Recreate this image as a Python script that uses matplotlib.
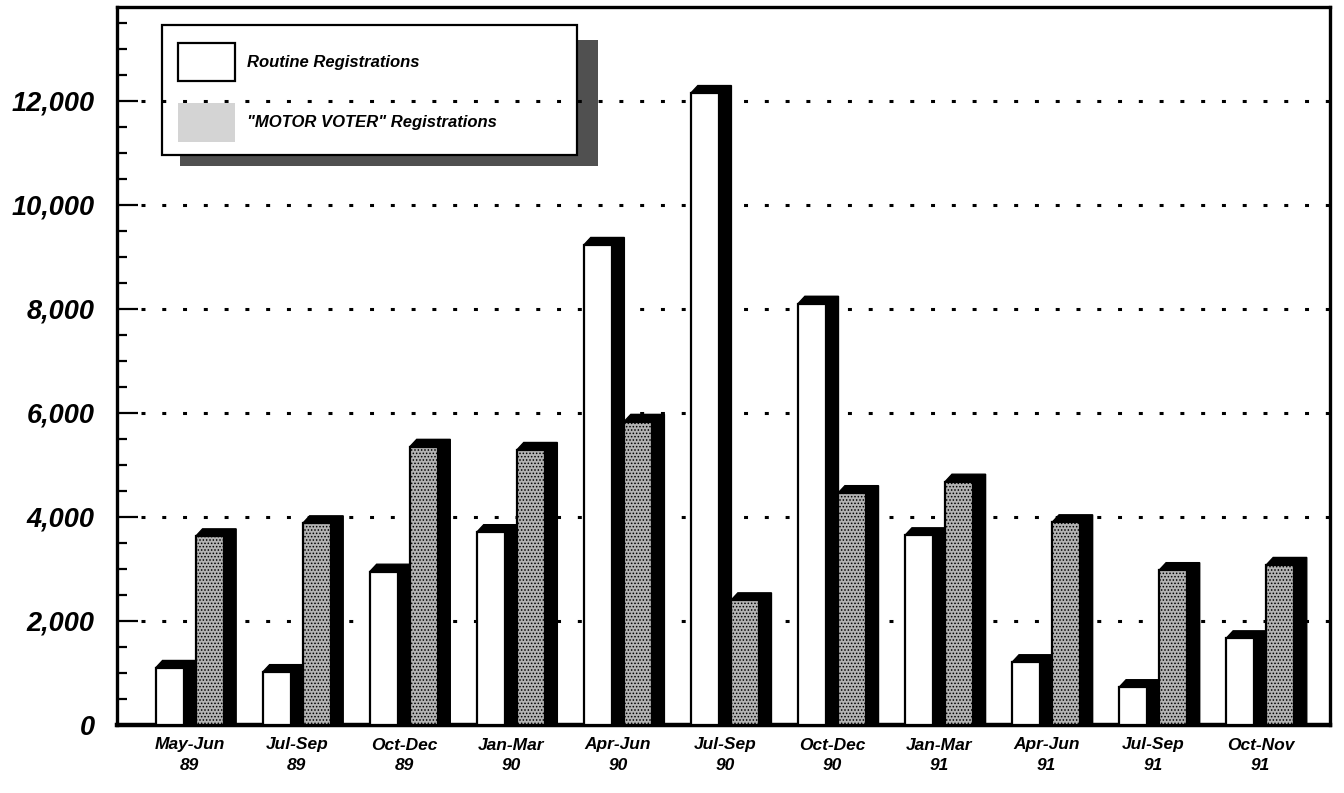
import matplotlib
matplotlib.use("Agg")
import matplotlib.pyplot as plt
from matplotlib.patches import Polygon, Rectangle
from matplotlib.ticker import MultipleLocator, FuncFormatter
import numpy as np

# ---- data ----
periods = ["May-Jun", "Jul-Sep", "Oct-Dec", "Jan-Mar", "Apr-Jun", "Jul-Sep",
           "Oct-Dec", "Jan-Mar", "Apr-Jun", "Jul-Sep", "Oct-Nov"]
years = ["89", "89", "89", "90", "90", "90", "90", "91", "91", "91", "91"]
routine = [1100, 1020, 2950, 3710, 9230, 12150, 8100, 3650, 1210, 730, 1670]
motor_voter = [3630, 3880, 5350, 5290, 5830, 2400, 4460, 4680, 3900, 2980, 3080]
series_labels = ["Routine Registrations", "\"MOTOR VOTER\" Registrations"]
y_ticks = [0, 2000, 4000, 6000, 8000, 10000, 12000]

plt.rcParams['font.family'] = ['Liberation Sans', 'DejaVu Sans']
NARROW = ['Liberation Sans Narrow', 'Liberation Sans', 'DejaVu Sans']

fig = plt.figure(figsize=(13.44, 7.93), dpi=100)
ax = fig.add_axes([117/1344, 1-725/793, (1330-117)/1344, (725-7)/793])

x = np.arange(len(periods))
w = 0.262
off = 0.187
dx = 0.115
dy = 140
GRAY = '#b4b4b4'

def draw_bars(xc, vals, face, hatch=None):
    for xi, v in zip(xc, vals):
        x0, x1 = xi - w/2, xi + w/2
        shadow = Polygon([(x0, v), (x0 + dx*0.55, v + dy), (x1 + dx, v + dy),
                          (x1 + dx, 0), (x1, 0)], closed=True,
                         facecolor='black', edgecolor='black', lw=1, zorder=3)
        ax.add_patch(shadow)
    ax.bar(xc, vals, width=w, facecolor=face, edgecolor='black', linewidth=1.6,
           hatch=hatch, zorder=4)

plt.rcParams['hatch.color'] = '#444444'
plt.rcParams['hatch.linewidth'] = 0.7
draw_bars(x - off, routine, 'white')
draw_bars(x + off, motor_voter, GRAY, hatch='.....')

ax.set_xlim(-0.68, 10.65)
ax.set_ylim(0, 13800)

# grid
for t in y_ticks[1:]:
    ax.axhline(t, xmin=0.02, xmax=1, color='black', lw=2.2,
               linestyle=(0, (1.3, 5.5)), zorder=2)

ax.yaxis.set_major_locator(MultipleLocator(2000))
ax.yaxis.set_minor_locator(MultipleLocator(500))
ax.yaxis.set_major_formatter(FuncFormatter(lambda v, p: f"{int(v):,}"))
ax.tick_params(axis='y', which='major', direction='in', length=15, width=1.6,
               pad=16, labelsize=19.5)
ax.tick_params(axis='y', which='minor', direction='in', length=7.5, width=1.6)
for lab in ax.get_yticklabels():
    lab.set_fontweight('bold')
    lab.set_fontstyle('italic')

ax.set_xticks(x)
ax.set_xticklabels([f"{p}\n{yr}" for p, yr in zip(periods, years)],
                   fontsize=12.5, fontweight='bold', fontstyle='italic',
                   family=NARROW, linespacing=1.45)
ax.tick_params(axis='x', length=0, pad=9)

for s in ['left', 'bottom', 'top', 'right']:
    ax.spines[s].set_linewidth(2.4)
ax.spines['bottom'].set_linewidth(3.2)

# legend (manual, axes coords from pixel positions)
def px2ax(px, py):
    return ((px - 117) / 1213, (725 - py) / 718)

def rect(px0, py0, px1, py1, **kw):
    a0 = px2ax(px0, py1)
    a1 = px2ax(px1, py0)
    r = Rectangle(a0, a1[0]-a0[0], a1[1]-a0[1], transform=ax.transAxes, **kw)
    ax.add_patch(r)
    return r

rect(180, 40, 598, 166, facecolor='#505050', edgecolor='none', zorder=1.2,
     hatch='xxxx')
rect(162, 25, 577, 155, facecolor='white', edgecolor='black', lw=1.6, zorder=1.5)
rect(178, 43, 235, 81, facecolor='white', edgecolor='black', lw=1.6, zorder=5)
rect(178, 103, 235, 142, facecolor='#d4d4d4', edgecolor='none', hatch='....',
     zorder=5)
tx, ty = px2ax(247, 62)
ax.text(tx, ty, series_labels[0], transform=ax.transAxes, fontsize=12,
        fontweight='bold', fontstyle='italic', family=NARROW, va='center',
        ha='left', zorder=6)
tx, ty = px2ax(247, 122)
ax.text(tx, ty, series_labels[1], transform=ax.transAxes, fontsize=12,
        fontweight='bold', fontstyle='italic', family=NARROW, va='center',
        ha='left', zorder=6)

fig.savefig("out.png", dpi=100)
